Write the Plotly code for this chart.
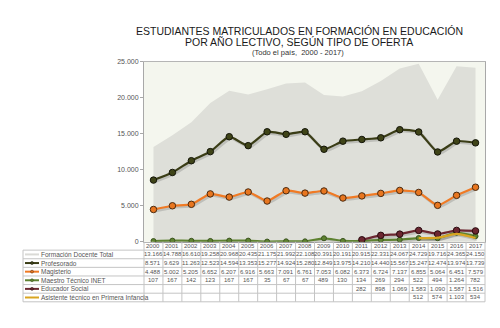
import plotly.graph_objects as go

years = [str(y) for y in range(2000, 2018)]
total = [13166, 14788, 16610, 19258, 20968, 20435, 21175, 21992, 22108, 20391,
         20191, 20915, 22331, 24067, 24729, 19716, 24365, 24150]
profesorado = [8571, 9629, 11263, 12523, 14594, 13353, 15277, 14924, 15280, 12849,
               13975, 14210, 14440, 15567, 15247, 12474, 13974, 13739]
magisterio = [4488, 5002, 5205, 6652, 6207, 6916, 5663, 7091, 6761, 7053,
              6082, 6373, 6724, 7137, 6855, 5064, 6451, 7579]
inet = [107, 167, 142, 123, 167, 167, 35, 67, 67, 489,
        130, 134, 269, 294, 522, 494, 1264, 782]
educador = [None] * 11 + [282, 898, 1069, 1583, 1090, 1587, 1516]
asistente = [None] * 14 + [512, 574, 1103, 534]

series_names = ["Formación Docente Total", "Profesorado", "Magisterio",
                "Maestro Técnico INET", "Educador Social",
                "Asistente técnico en Primera Infancia"]

W, H = 500, 328
def px(x):
    return x / W
def py(y):
    return 1 - y / H

PLOT_L, PLOT_R, PLOT_T, PLOT_B = 144, 485, 59, 243
SH = 1.5  # shadow offset in px

fig = go.Figure()

fig.add_trace(go.Scatter(x=years, y=total, mode="none", fill="tozeroy",
                         fillcolor="#DEDFD9", name=series_names[0], showlegend=False))

line_specs = [
    (profesorado, "#3A3D16", "#3F4418", "#15160a", 6.5, True),
    (magisterio, "#F07A24", "#E8761F", "#4a2a10", 6.5, True),
    (inet, "#5E8231", "#5E8231", "#3d5520", 5, True),
    (educador, "#6C2731", "#6C2731", "#2a0c10", 6.5, True),
    (asistente, "#D9A521", "#D9A521", "#D9A521", 0, False),
]
# shadows on an offset axis pair
for (vals, lc, mc, mb, ms, mk), nm in zip(line_specs, series_names[1:]):
    fig.add_trace(go.Scatter(
        x=years, y=vals, xaxis="x2", yaxis="y2", showlegend=False, hoverinfo="skip",
        mode="lines", line=dict(color="rgba(0,0,0,0.14)", width=3, shape="spline", smoothing=0.5),
        connectgaps=False,
    ))
# main lines on a third (invisible) pair with the same domain as the main axes
for (vals, lc, mc, mb, ms, mk), nm in zip(line_specs, series_names[1:]):
    fig.add_trace(go.Scatter(
        x=years, y=vals, name=nm, showlegend=False, xaxis="x3", yaxis="y3",
        mode="lines+markers" if mk else "lines",
        line=dict(color=lc, width=2.2, shape="spline", smoothing=0.5),
        marker=dict(color=mc, size=ms, line=dict(color=mb, width=1)),
        connectgaps=False,
    ))

shapes = []
annotations = []

# plot background
shapes.append(dict(type="rect", xref="paper", yref="paper", layer="below",
                   x0=px(PLOT_L), x1=px(PLOT_R), y0=py(PLOT_B), y1=py(PLOT_T),
                   fillcolor="#F4F6EE", line=dict(width=0)))

def ann(x, y, text, size, color="#444", xanchor="center"):
    annotations.append(dict(x=px(x), y=py(y), xref="paper", yref="paper",
                            text=text, showarrow=False, xanchor=xanchor,
                            yanchor="middle", borderpad=0,
                            font=dict(size=size, color=color, family="Liberation Sans")))

def hline(x0, x1, y, color, width=1):
    shapes.append(dict(type="line", xref="paper", yref="paper", layer="above",
                       x0=px(x0), x1=px(x1), y0=py(y), y1=py(y),
                       line=dict(color=color, width=width)))

def vline(x, y0, y1, color, width=1):
    shapes.append(dict(type="line", xref="paper", yref="paper", layer="above",
                       x0=px(x), x1=px(x), y0=py(y0), y1=py(y1),
                       line=dict(color=color, width=width)))

# Title
ann(299, 28, "ESTUDIANTES MATRICULADOS EN FORMACIÓN EN EDUCACIÓN", 10.5, "#1a1a1a")
ann(299, 39, "POR AÑO LECTIVO, SEGÚN TIPO DE OFERTA", 10.5, "#1a1a1a")
ann(298, 49.5, "(Todo el país,  2000 - 2017)", 7.5, "#333")

# Table geometry
n = len(years)
colw = (PLOT_R - PLOT_L) / n
row_edges = [243, 251.5, 260.3, 269.1, 277.9, 286.7, 295.5, 304.3]
grid = "#C4C4C4"

for yy in row_edges[1:]:
    hline(23, PLOT_R, yy, grid)
for k in range(n + 1):
    vline(PLOT_L + k * colw, 243, 304.3, grid)
vline(23, 251.5, 304.3, grid)

def fmt(v):
    return f"{v:,}".replace(",", ".")

for k, yr in enumerate(years):
    ann(PLOT_L + (k + 0.5) * colw, 247.5, yr, 6, "#555")

all_series = [total, profesorado, magisterio, inet, educador, asistente]
for r, vals in enumerate(all_series):
    yc = (row_edges[r + 1] + row_edges[r + 2]) / 2
    for k, v in enumerate(vals):
        if v is None:
            continue
        ann(PLOT_L + (k + 0.5) * colw, yc, fmt(v), 6, "#555")

# legend column
leg_colors = ["#DADAD6", "#3A3D16", "#F07A24", "#5E8231", "#6C2731", "#D9A521"]
leg_marker = [None, ("#3F4418", "#15160a"), ("#E8761F", "#4a2a10"),
              ("#5E8231", "#3d5520"), ("#6C2731", "#2a0c10"), None]
for r, nm in enumerate(series_names):
    yc = (row_edges[r + 1] + row_edges[r + 2]) / 2
    hline(25, 39, yc, leg_colors[r], 2)
    if leg_marker[r] is not None:
        fc, bc = leg_marker[r]
        shapes.append(dict(type="circle", xref="paper", yref="paper", layer="above",
                           x0=px(30.5), x1=px(33.5), y0=py(yc + 1.5), y1=py(yc - 1.5),
                           fillcolor=fc, line=dict(color=bc, width=0.5)))
    ann(40, yc, nm, 6.5, "#555", xanchor="left")

hidden = dict(type="category", visible=False, showgrid=False, zeroline=False)
fig.update_layout(
    width=W, height=H,
    margin=dict(l=0, r=0, t=0, b=0),
    paper_bgcolor="white",
    plot_bgcolor="rgba(0,0,0,0)",
    separators=",.",
    shapes=shapes,
    annotations=annotations,
    showlegend=False,
    font=dict(family="Liberation Sans"),
    xaxis=dict(domain=[px(PLOT_L), px(PLOT_R)], range=[-0.5, n - 0.5],
               type="category", showticklabels=False, showgrid=False,
               zeroline=False, showline=True, linecolor="#B5B5B5", mirror=True,
               ticks=""),
    yaxis=dict(domain=[py(PLOT_B), py(PLOT_T)], range=[0, 25000],
               dtick=5000, tickformat=",d", showgrid=False, zeroline=False,
               showline=True, linecolor="#A8A8A8", mirror=True,
               ticks="outside", ticklen=3, tickcolor="#A8A8A8",
               tickfont=dict(size=7, color="#555", family="Liberation Sans")),
    xaxis2=dict(domain=[px(PLOT_L + SH), px(PLOT_R + SH)], range=[-0.5, n - 0.5],
                anchor="y2", **hidden),
    yaxis2=dict(domain=[py(PLOT_B + SH), py(PLOT_T + SH)], range=[0, 25000],
                anchor="x2", visible=False, showgrid=False, zeroline=False),
    xaxis3=dict(domain=[px(PLOT_L), px(PLOT_R)], range=[-0.5, n - 0.5],
                anchor="y3", **hidden),
    yaxis3=dict(domain=[py(PLOT_B), py(PLOT_T)], range=[0, 25000],
                anchor="x3", visible=False, showgrid=False, zeroline=False),
)

fig.write_html("out.html")
